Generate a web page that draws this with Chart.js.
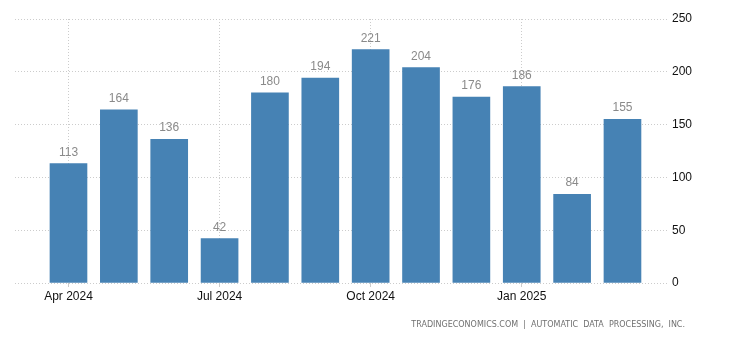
<!DOCTYPE html>
<html>
<head>
<meta charset="utf-8">
<script src="https://cdn.jsdelivr.net/npm/chart.js@4/dist/chart.umd.min.js"></script>
<style>
html,body{margin:0;padding:0;background:#fff;}
#wrap{width:730px;height:340px;position:relative;}
</style>
</head>
<body>
<div id="wrap"><canvas id="c" width="730" height="340"></canvas></div>
<script>
const months = ["Apr 2024","May 2024","Jun 2024","Jul 2024","Aug 2024","Sep 2024","Oct 2024","Nov 2024","Dec 2024","Jan 2025","Feb 2025","Mar 2025"];
const values = [113, 164, 136, 42, 180, 194, 221, 204, 176, 186, 84, 155];
const xTickIndices = [0, 3, 6, 9];
const yTicks = [0, 50, 100, 150, 200, 250];
const sourceText = "TRADINGECONOMICS.COM  |  AUTOMATIC  DATA  PROCESSING,  INC.";

const barColor = "#4682b4";
const gridColor = "#cccccc";

const valueLabels = {
  id: 'valueLabels',
  afterDatasetsDraw(chart) {
    const ctx = chart.ctx;
    const meta = chart.getDatasetMeta(0);
    ctx.save();
    ctx.font = '12px "Liberation Sans Narrow", "Liberation Sans", Arial, sans-serif';
    ctx.fillStyle = '#8a8a8a';
    ctx.textAlign = 'center';
    ctx.textBaseline = 'alphabetic';
    meta.data.forEach((bar, i) => {
      ctx.fillText(String(values[i]), bar.x, bar.y - 8);
    });
    ctx.restore();
  }
};

const footer = {
  id: 'footer',
  afterDraw(chart) {
    const ctx = chart.ctx;
    ctx.save();
    ctx.font = '8px "DejaVu Sans", Verdana, sans-serif';
    ctx.fillStyle = '#707070';
    ctx.textAlign = 'right';
    ctx.textBaseline = 'middle';
    ctx.fillText(sourceText, 685, 325);
    ctx.restore();
  }
};

new Chart(document.getElementById('c'), {
  type: 'bar',
  data: {
    datasets: [{
      data: values.map((v, i) => ({x: i, y: v})),
      backgroundColor: barColor,
      borderWidth: 0,
      barThickness: 37
    }]
  },
  options: {
    responsive: false,
    animation: false,
    layout: {padding: {left: 15, top: 19, right: 0, bottom: 0}},
    plugins: {legend: {display: false}, tooltip: {enabled: false}},
    scales: {
      x: {
        type: 'linear',
        offset: false,
        bounds: 'data',
        min: -1.062,
        max: 11.904,
        afterBuildTicks(scale) { scale.ticks = xTickIndices.map(v => ({value: v})); },
        afterFit(scale) { scale.height = 57; },
        ticks: {
          callback: (v) => months[v],
          color: '#111',
          font: {family: '"Liberation Sans", Arial, sans-serif', size: 12},
          padding: 2,
          maxRotation: 0,
          autoSkip: false
        },
        grid: {
          offset: false,
          color: gridColor,
          lineWidth: 1,
          drawTicks: true,
          tickLength: 4,
          tickColor: gridColor,
          tickBorderDash: [1, 0]
        },
        border: {display: false, dash: [1, 2]}
      },
      y: {
        position: 'right',
        min: 0,
        max: 250,
        afterBuildTicks(scale) { scale.ticks = yTicks.map(v => ({value: v})); },
        afterFit(scale) { scale.width = 62; },
        ticks: {
          color: '#111',
          font: {family: '"Liberation Sans", Arial, sans-serif', size: 12},
          padding: 4
        },
        grid: {
          color: gridColor,
          lineWidth: 1,
          drawTicks: false
        },
        border: {display: false, dash: [1, 2]}
      }
    }
  },
  plugins: [valueLabels, footer]
});
</script>
</body>
</html>
